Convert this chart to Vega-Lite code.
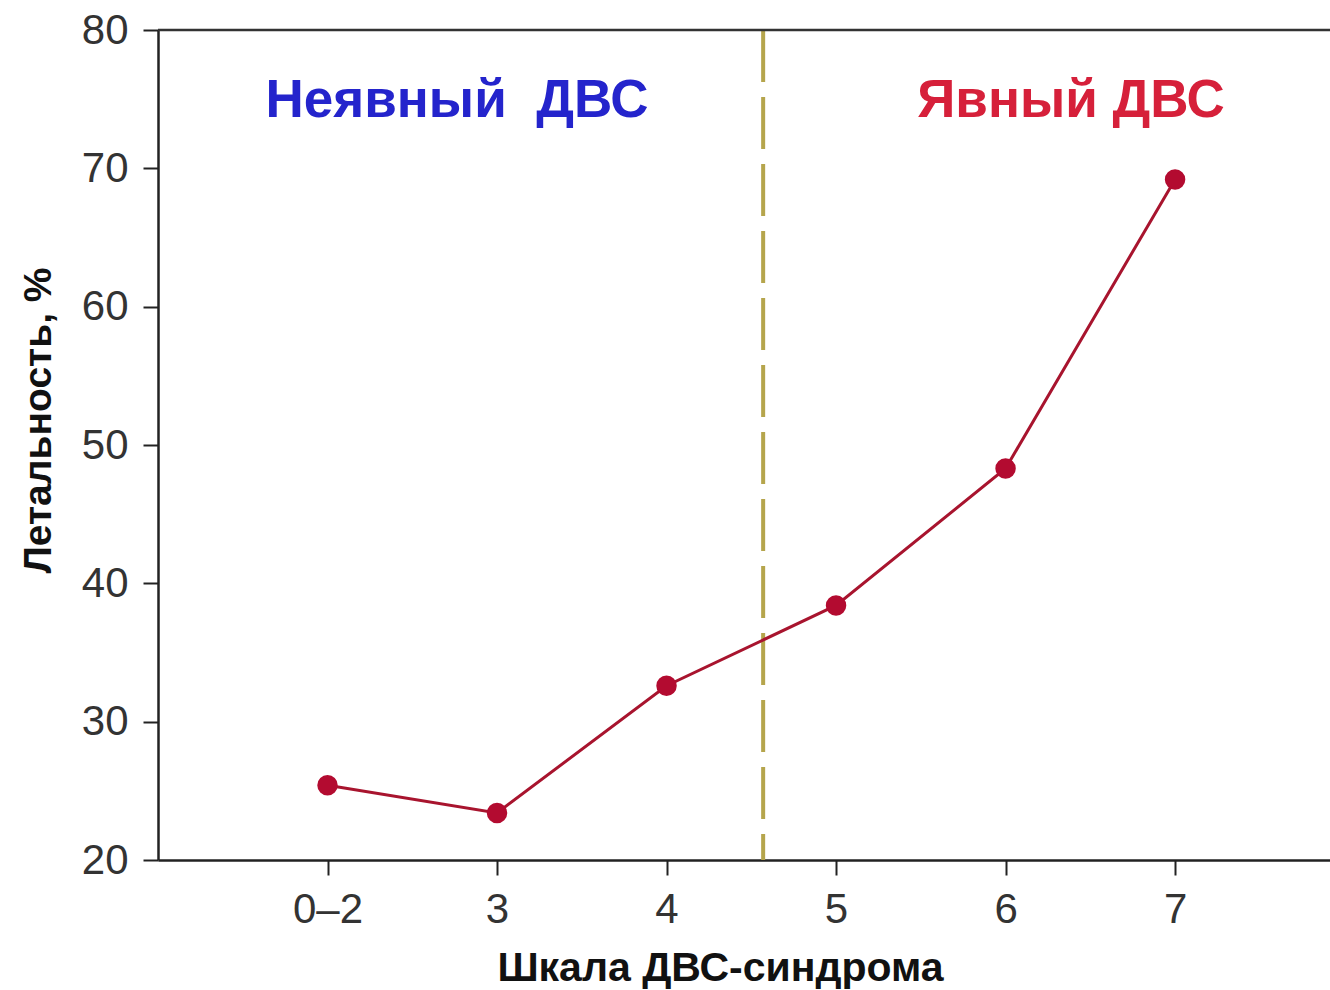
{
  "$schema": "https://vega.github.io/schema/vega-lite/v6.json",
  "width": 1172,
  "height": 830,
  "autosize": {"type": "none"},
  "padding": {"left": 158, "top": 30, "right": 0, "bottom": 130},
  "background": "white",
  "config": {
    "view": {"stroke": null},
    "font": "Liberation Sans"
  },
  "datasets": {
    "points": [
      {"score": "0–2", "pos": 1, "mortality": 25.4},
      {"score": "3", "pos": 2, "mortality": 23.4},
      {"score": "4", "pos": 3, "mortality": 32.6},
      {"score": "5", "pos": 4, "mortality": 38.4},
      {"score": "6", "pos": 5, "mortality": 48.3},
      {"score": "7", "pos": 6, "mortality": 69.2}
    ],
    "zones": [
      {"label": "Неявный\u00a0\u00a0ДВС", "zone": "implicit", "pos": 1.764, "y": 73.7},
      {"label": "Явный ДВС", "zone": "overt", "pos": 5.386, "y": 73.7}
    ],
    "threshold": [{"pos": 3.57}],
    "top": [{"y": 80}]
  },
  "layer": [
    {
      "data": {"name": "threshold"},
      "mark": {"type": "rule", "color": "#b5a54c", "strokeWidth": 4, "strokeDash": [52, 15]},
      "encoding": {
        "x": {"field": "pos", "type": "quantitative", "scale": {"domain": [0, 6.914], "nice": false, "zero": false}}
      }
    },
    {
      "data": {"name": "top"},
      "mark": {"type": "rule", "color": "#333333", "strokeWidth": 2.5},
      "encoding": {
        "y": {"field": "y", "type": "quantitative", "scale": {"domain": [20, 80], "nice": false, "zero": false}}
      }
    },
    {
      "data": {"name": "points"},
      "mark": {"type": "line", "color": "#a8142e", "strokeWidth": 3},
      "encoding": {
        "x": {
          "field": "pos",
          "type": "quantitative",
          "scale": {"domain": [0, 6.914], "nice": false, "zero": false},
          "axis": {
            "values": [1, 2, 3, 4, 5, 6],
            "labelExpr": "datum.value == 1 ? '0–2' : '' + (datum.value + 1)",
            "grid": false,
            "domainColor": "#222222",
            "domainWidth": 2.5,
            "tickColor": "#222222",
            "tickWidth": 2,
            "tickSize": 15,
            "labelFontSize": 42,
            "labelColor": "#333333",
            "labelPadding": 14,
            "labelFont": "Liberation Sans",
            "title": "Шкала ДВС-синдрома",
            "titleFont": "Liberation Sans",
            "titleFontSize": 41,
            "titleFontWeight": "bold",
            "titleColor": "#111111",
            "titleX": 562,
            "titleY": 120,
            "titleBaseline": "alphabetic",
            "titleAlign": "center"
          }
        },
        "y": {
          "field": "mortality",
          "type": "quantitative",
          "scale": {"domain": [20, 80], "nice": false, "zero": false},
          "axis": {
            "values": [20, 30, 40, 50, 60, 70, 80],
            "grid": false,
            "domainColor": "#222222",
            "domainWidth": 2.5,
            "tickColor": "#222222",
            "tickWidth": 2,
            "tickSize": 15,
            "labelFontSize": 42,
            "labelColor": "#333333",
            "labelPadding": 15,
            "labelFont": "Liberation Sans",
            "title": "Летальность, %",
            "titleFont": "Liberation Sans",
            "titleFontSize": 39,
            "titleFontWeight": "bold",
            "titleColor": "#111111",
            "titleAngle": -90,
            "titleX": -120,
            "titleY": 390,
            "titleAlign": "center",
            "titleBaseline": "middle"
          }
        }
      }
    },
    {
      "data": {"name": "points"},
      "mark": {"type": "point", "filled": true, "size": 420, "color": "#b30b30", "opacity": 1},
      "encoding": {
        "x": {"field": "pos", "type": "quantitative"},
        "y": {"field": "mortality", "type": "quantitative"}
      }
    },
    {
      "data": {"name": "zones"},
      "mark": {"type": "text", "fontSize": 53, "fontWeight": "bold", "font": "Liberation Sans", "align": "center", "baseline": "alphabetic"},
      "encoding": {
        "x": {"field": "pos", "type": "quantitative"},
        "y": {"field": "y", "type": "quantitative"},
        "text": {"field": "label"},
        "color": {"field": "zone", "type": "nominal", "scale": {"domain": ["implicit", "overt"], "range": ["#2424cc", "#d6203a"]}, "legend": null}
      }
    }
  ]
}
